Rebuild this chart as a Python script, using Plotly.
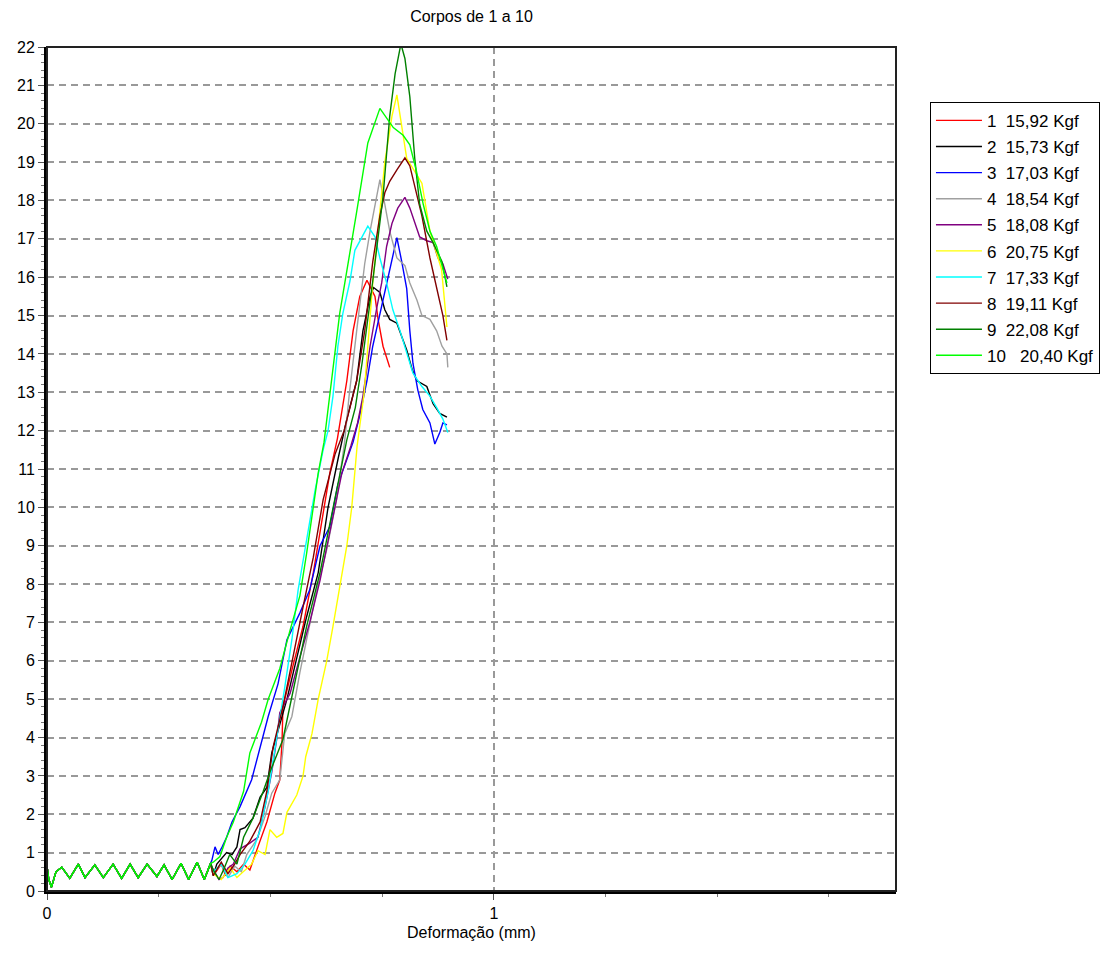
import plotly.graph_objs as go

# common noisy start (all specimens sit on this before loading)
base_x = [0.0, 0.004, 0.010, 0.020, 0.033, 0.051, 0.070, 0.085, 0.107, 0.126, 0.148, 0.167,
          0.186, 0.204, 0.224, 0.246, 0.262, 0.280, 0.300, 0.317, 0.336, 0.352, 0.366]
base_y = [0.65, 0.3, 0.1, 0.5, 0.62, 0.33, 0.7, 0.35, 0.68, 0.35, 0.7, 0.33,
          0.7, 0.35, 0.7, 0.38, 0.68, 0.3, 0.72, 0.3, 0.75, 0.3, 0.72]

names = ['1\u00a0\u00a015,92 Kgf', '2\u00a0\u00a015,73 Kgf', '3\u00a0\u00a017,03 Kgf',
         '4\u00a0\u00a018,54 Kgf', '5\u00a0\u00a018,08 Kgf', '6\u00a0\u00a020,75 Kgf',
         '7\u00a0\u00a017,33 Kgf', '8\u00a0\u00a019,11 Kgf', '9\u00a0\u00a022,08 Kgf',
         '10\u00a0\u00a0\u00a020,40 Kgf']
colors = ['#FF0000', '#000000', '#0000FF', '#A0A0A0', '#800080',
          '#FFFF00', '#00FFFF', '#800000', '#008000', '#00FF00']

x1 = [0.375, 0.39, 0.40, 0.41, 0.425, 0.44, 0.454, 0.472, 0.492, 0.51, 0.521, 0.526, 0.528,
      0.55, 0.573, 0.596, 0.615, 0.633, 0.65, 0.671, 0.685, 0.70, 0.716, 0.734, 0.741, 0.752, 0.767]
y1 = [0.45, 0.7, 0.4, 0.65, 0.5, 0.7, 0.55, 1.15, 1.8, 2.55, 2.9, 3.9, 4.8,
      5.85, 6.9, 8.3, 9.6, 10.9, 11.8, 13.3, 14.6, 15.5, 15.92, 15.5, 14.9, 14.2, 13.65]

x2 = [0.372, 0.38, 0.391, 0.402, 0.414, 0.425, 0.432, 0.443, 0.461, 0.477, 0.492, 0.503, 0.537,
      0.559, 0.581, 0.607, 0.629, 0.652, 0.671, 0.693, 0.707, 0.723, 0.731, 0.745, 0.756, 0.767,
      0.783, 0.794, 0.805, 0.817, 0.828, 0.85, 0.864, 0.879, 0.895]
y2 = [0.4, 0.7, 0.85, 1.0, 0.95, 1.15, 1.6, 1.65, 1.9, 2.45, 2.7, 3.6, 5.0,
      6.1, 7.15, 8.3, 10.0, 11.3, 12.3, 13.3, 14.6, 15.5, 15.73, 15.6, 15.15, 14.9,
      14.8, 14.45, 14.1, 13.6, 13.3, 13.15, 12.7, 12.45, 12.35]

x3 = [0.369, 0.376, 0.383, 0.392, 0.402, 0.414, 0.432, 0.458, 0.477, 0.495, 0.517, 0.537, 0.566,
      0.588, 0.611, 0.633, 0.651, 0.685, 0.70, 0.716, 0.729, 0.745, 0.76, 0.772, 0.783, 0.794,
      0.805, 0.812, 0.819, 0.83, 0.841, 0.857, 0.868, 0.879, 0.886, 0.895]
y3 = [0.8, 1.15, 0.95, 1.15, 1.4, 1.8, 2.2, 2.9, 3.75, 4.55, 5.4, 6.55, 7.25,
      7.85, 9.0, 9.5, 10.6, 11.7, 12.4, 13.3, 14.2, 15.05, 15.85, 16.5, 17.03, 16.4,
      15.7, 14.6, 13.75, 13.05, 12.55, 12.2, 11.65, 11.95, 12.2, 12.15]

x4 = [0.372, 0.39, 0.405, 0.42, 0.435, 0.447, 0.47, 0.488, 0.503, 0.521, 0.526, 0.532, 0.548,
      0.566, 0.581, 0.604, 0.626, 0.648, 0.666, 0.676, 0.693, 0.711, 0.723, 0.734, 0.745, 0.756,
      0.767, 0.783, 0.801, 0.812, 0.828, 0.839, 0.857, 0.872, 0.884, 0.895, 0.897]
y4 = [0.45, 0.7, 0.35, 0.65, 0.5, 0.95, 1.35, 1.95, 2.55, 2.9, 3.5, 4.1, 4.55,
      5.7, 6.55, 7.85, 8.9, 10.2, 11.7, 12.9, 14.6, 16.35, 17.2, 17.9, 18.54, 17.9,
      17.2, 16.5, 16.3, 15.85, 15.4, 15.0, 14.9, 14.6, 14.2, 14.0, 13.65]

x5 = [0.372, 0.385, 0.394, 0.405, 0.417, 0.432, 0.454, 0.472, 0.488, 0.503, 0.514, 0.521, 0.544,
      0.566, 0.588, 0.611, 0.638, 0.66, 0.68, 0.695, 0.707, 0.723, 0.738, 0.749, 0.76, 0.772,
      0.785, 0.801, 0.812, 0.823, 0.834, 0.85, 0.864, 0.875, 0.886, 0.897]
y5 = [0.55, 0.3, 0.35, 0.6, 0.7, 1.1, 1.25, 1.4, 2.2, 3.1, 3.95, 4.65, 5.15,
      6.1, 7.0, 8.1, 9.6, 10.9, 11.6, 12.2, 12.9, 14.2, 15.2, 15.85, 16.8, 17.4,
      17.8, 18.08, 17.8, 17.4, 17.05, 16.95, 16.9, 16.5, 16.35, 15.95]

x6 = [0.372, 0.39, 0.41, 0.425, 0.447, 0.458, 0.472, 0.488, 0.499, 0.514, 0.528, 0.537, 0.559,
      0.573, 0.579, 0.593, 0.607, 0.626, 0.64, 0.656, 0.671, 0.682, 0.694, 0.71, 0.729, 0.756,
      0.772, 0.783, 0.805, 0.839, 0.857, 0.883, 0.895]
y6 = [0.45, 0.3, 0.6, 0.35, 0.6, 0.7, 1.05, 0.95, 1.6, 1.4, 1.5, 2.05, 2.5,
      3.0, 3.5, 4.1, 5.0, 6.0, 6.9, 8.0, 9.0, 10.0, 11.6, 13.0, 15.85, 19.0,
      20.2, 20.75, 19.1, 18.45, 17.2, 16.2, 14.7]

x7 = [0.372, 0.39, 0.405, 0.425, 0.443, 0.461, 0.477, 0.495, 0.51, 0.521, 0.532, 0.548, 0.562,
      0.581, 0.60, 0.618, 0.629, 0.64, 0.651, 0.662, 0.678, 0.689, 0.705, 0.718, 0.734, 0.745,
      0.76, 0.774, 0.79, 0.805, 0.819, 0.839, 0.857, 0.872, 0.886, 0.897]
y7 = [0.5, 0.7, 0.35, 0.45, 0.7, 1.05, 1.6, 2.6, 3.7, 4.4, 5.3, 6.55, 7.85,
      9.15, 10.45, 11.5, 12.0, 12.9, 14.2, 15.05, 15.9, 16.7, 17.05, 17.33, 17.05, 16.5,
      15.85, 15.15, 14.6, 14.0, 13.5, 13.15, 12.9, 12.6, 12.3, 11.95]

x8 = [0.372, 0.39, 0.405, 0.42, 0.432, 0.454, 0.477, 0.492, 0.506, 0.528, 0.55, 0.573, 0.596,
      0.618, 0.645, 0.665, 0.693, 0.711, 0.729, 0.745, 0.756, 0.767, 0.783, 0.801, 0.812, 0.823,
      0.839, 0.857, 0.872, 0.886, 0.895]
y8 = [0.4, 0.75, 0.45, 0.7, 0.95, 1.3, 1.8, 2.6, 3.75, 4.8, 6.1, 7.4, 8.7,
      10.2, 11.4, 12.0, 13.3, 14.6, 16.4, 17.6, 18.2, 18.5, 18.8, 19.11, 18.9, 18.35,
      17.6, 16.5, 15.7, 15.0, 14.35]

x9 = [0.372, 0.385, 0.395, 0.409, 0.425, 0.44, 0.461, 0.484, 0.499, 0.528, 0.559, 0.581, 0.611,
      0.64, 0.671, 0.69, 0.705, 0.729, 0.752, 0.767, 0.779, 0.792, 0.801, 0.812, 0.823, 0.834,
      0.85, 0.864, 0.884, 0.895]
y9 = [0.55, 0.3, 0.55, 0.95, 0.7, 1.4, 1.9, 2.6, 3.1, 3.95, 5.7, 6.9, 8.3,
      10.0, 11.76, 12.6, 13.75, 15.9, 18.1, 20.2, 21.3, 22.08, 21.7, 20.7, 19.1, 17.9,
      17.2, 16.9, 16.4, 15.75]

x10 = [0.372, 0.387, 0.402, 0.417, 0.44, 0.454, 0.48, 0.495, 0.521, 0.544, 0.566, 0.581, 0.607,
       0.62, 0.655, 0.693, 0.718, 0.745, 0.76, 0.775, 0.797, 0.812, 0.827, 0.842, 0.857, 0.872,
       0.895]
y10 = [0.75, 0.9, 1.4, 1.8, 2.6, 3.6, 4.4, 5.0, 5.8, 6.8, 7.7, 8.8, 10.9,
       11.7, 15.05, 17.7, 19.5, 20.4, 20.15, 19.9, 19.7, 19.45, 18.75, 17.9, 17.2, 16.8,
       15.85]

xs = [x1, x2, x3, x4, x5, x6, x7, x8, x9, x10]
ys = [y1, y2, y3, y4, y5, y6, y7, y8, y9, y10]

fnt = 'Liberation Sans, Arial, sans-serif'

data_g = []
for i in range(10):
    data_g.append(go.Scatter(
        x=base_x + xs[i], y=base_y + ys[i], mode='lines', name=names[i],
        legendgroup=str(i),
        line=dict(color=colors[i], width=1.4),
    ))

# page body has an 8px margin all round, keep the figure inside the window
layout = go.Layout(
    width=1101, height=935,
    paper_bgcolor='white', plot_bgcolor='white',
    margin=dict(l=39, r=213, t=39, b=52, pad=0, autoexpand=False),
    font=dict(family=fnt, size=16, color='black'),
    title=dict(text='Corpos de 1 a 10', x=0.5, xref='paper', y=1, yref='container',
               xanchor='center', yanchor='top', pad=dict(t=3),
               font=dict(size=16, color='black')),
    xaxis=dict(range=[0, 1.9], tickvals=[0, 1], ticktext=['0', '1'], automargin=False,
               showline=True, linecolor='black', linewidth=3,
               ticks='outside', ticklen=6, tickcolor='#555', tickwidth=1,
               showgrid=True, gridcolor='#999', griddash='7px,5px', gridwidth=1.5,
               zeroline=False, fixedrange=True,
               minor=dict(dtick=0.25, tick0=0, ticks='outside', ticklen=3, tickcolor='#777', showgrid=False)),
    yaxis=dict(range=[0, 22], dtick=1, tick0=0, automargin=False,
               showline=True, linecolor='black', linewidth=3,
               ticks='outside', ticklen=6, tickcolor='#555', tickwidth=1,
               showgrid=True, gridcolor='#999', griddash='7px,5px', gridwidth=1.5,
               zeroline=False, fixedrange=True,
               minor=dict(dtick=0.2, tick0=0, ticks='outside', ticklen=3, tickcolor='#777', showgrid=False)),
    legend=dict(x=1.04, y=0.935, xanchor='left', yanchor='top',
                bordercolor='black', borderwidth=1, bgcolor='white', itemwidth=46,
                font=dict(size=17, color='black'), tracegroupgap=1),
    annotations=[dict(text='Deformação (mm)', xref='paper', yref='paper', x=0.5, y=0,
                      yshift=-41, xanchor='center', yanchor='middle', showarrow=False,
                      font=dict(size=16, color='black'))],
    shapes=[dict(type='rect', xref='paper', yref='paper', x0=0, x1=1, y0=0, y1=1,
                 line=dict(color='#222', width=2), layer='above')],
)

fig = go.Figure(data=data_g, layout=layout)
fig.write_html('out.html')
